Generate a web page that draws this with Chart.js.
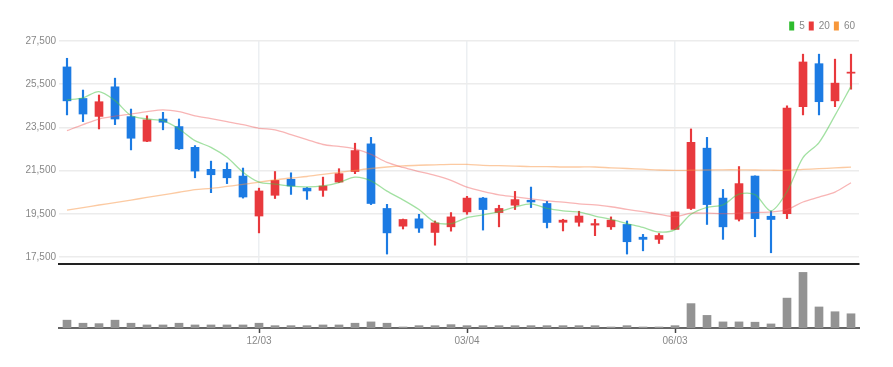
<!DOCTYPE html>
<html>
<head>
<meta charset="utf-8">
<script src="https://cdn.jsdelivr.net/npm/chart.js@4/dist/chart.umd.min.js"></script>
<style>
  body { margin: 0; background: #fff; }
  #wrap { position: relative; width: 893px; height: 367px; }
  #priceChart { position: absolute; left: 0; top: 0; }
  #volumeChart { position: absolute; left: 0; top: 264px; }
</style>
</head>
<body>
<div id="wrap">
  <canvas id="priceChart" width="893" height="273"></canvas>
  <canvas id="volumeChart" width="893" height="103"></canvas>
</div>
<script>
// weekly candles
const weeks = [
  "09/10","09/17","09/24","10/01","10/08","10/15","10/22","10/29","11/05","11/12",
  "11/19","11/26","12/03","12/10","12/17","12/24","12/31","01/07","01/14","01/21",
  "01/28","02/04","02/11","02/18","02/25","03/04","03/11","03/18","03/25","04/01",
  "04/08","04/15","04/22","04/29","05/06","05/13","05/20","05/27","06/03","06/10",
  "06/17","06/24","07/01","07/08","07/15","07/22","07/29","08/05","08/12","08/19"
];
const shownWeeks = ["12/03", "03/04", "06/03"];

const openPrice = [
  26300,24840,24010,25380,24000,22860,23890,23540,22580,21560,
  21560,21250,19400,20360,21100,20690,20590,20970,21460,22740,
  19750,18930,19270,18640,18900,19590,20230,19560,19900,20130,
  19980,19110,19110,18980,18900,19010,18420,18320,18780,19750,
  22540,20230,19250,21250,19390,19510,24460,26450,24730,26010
];
const highPrice = [
  26700,25230,25000,25780,24350,24040,24200,23890,22660,21940,
  21860,21620,20690,21460,21400,20720,21200,21590,22770,23040,
  19940,19260,19480,19170,19560,20310,20260,19900,20540,20740,
  20080,19250,19620,19250,19360,19170,18550,18590,19590,23430,
  23040,20630,21690,21260,19630,24500,26890,26890,26660,26890
];
const lowPrice = [
  24080,23770,23430,23630,22460,22840,23390,22480,21170,20480,
  20900,20230,18620,20210,20400,20170,20310,20950,21360,19930,
  17640,18800,18640,18050,18700,19480,18750,18900,19700,19790,
  18850,18710,18930,18490,18780,17640,17790,18130,18770,19700,
  19010,18320,19170,18440,17700,19280,24080,24080,24460,25270
];
const closePrice = [
  24730,24120,24690,23890,23000,23850,23740,22510,21480,21310,
  21170,20280,20560,21050,20790,20560,20790,21360,22430,19980,
  18620,19240,18840,19080,19360,20230,19700,19750,20160,20050,
  19100,19210,19400,19050,19210,18210,18320,18500,19590,22810,
  19930,18900,20900,19280,19240,24400,26530,24690,25550,26060
];
const volume = [
  77000,47000,43000,77000,47000,30000,30000,47000,30000,30000,
  30000,30000,47000,23000,23000,23000,30000,30000,47000,60000,
  47000,10000,23000,23000,33000,23000,23000,23000,23000,23000,
  23000,23000,23000,23000,10000,23000,10000,10000,23000,240000,
  124000,60000,60000,57000,40000,294000,547000,207000,160000,140000
];

// moving averages
const ma5 = [
  24770,24870,25160,24740,24050,23890,23810,23430,22890,22580,
  22120,21430,20970,20880,20780,20750,20800,20950,21200,21030,
  20550,20150,19700,19120,19050,19330,19450,19600,19810,19960,
  19750,19640,19585,19400,19240,19050,18870,18660,18770,19480,
  19800,19920,20410,20390,19640,20530,22100,22800,24060,25400
];
const ma20 = [
  23350,23630,23890,24020,24120,24230,24310,24230,24040,23910,
  23770,23630,23460,23390,23170,22940,22710,22620,22510,22250,
  21880,21650,21460,21280,21050,20740,20540,20380,20290,20190,
  20100,20040,19960,19920,19830,19710,19600,19480,19370,19530,
  19530,19510,19530,19560,19590,19700,20050,20280,20510,20940
];
const ma60 = [
  19670,19790,19910,20020,20140,20260,20380,20500,20620,20680,
  20770,20860,20970,21070,21160,21230,21330,21420,21510,21600,
  21670,21720,21750,21770,21790,21790,21740,21730,21710,21690,
  21690,21670,21670,21670,21630,21600,21570,21530,21510,21520,
  21530,21540,21540,21530,21520,21520,21560,21590,21630,21660
];
const priceTicks = [17500, 19500, 21500, 23500, 25500, 27500];

const maNames = ["5", "20", "60"];
const maLineColors = ["rgba(70,195,70,0.5)", "rgba(240,90,90,0.45)", "rgba(250,150,70,0.5)"];
const maKeyColors = ["#2dbb2d", "#ea3a3a", "#f7973a"];

const UP = "#e8393d";
const DOWN = "#1c7be3";
const candleColor = (i) => closePrice[i] >= openPrice[i] ? UP : DOWN;
const isShown = (i) => shownWeeks.includes(weeks[i]);

const fixWidth = (scale) => { scale.width = 59; };
const labelFont = { family: "'Liberation Sans Narrow', 'Liberation Sans', Arial", size: 10 };

const priceChart = new Chart(document.getElementById("priceChart"), {
  data: {
    labels: weeks,
    datasets: [
      ...[ma5, ma20, ma60].map((d, k) => ({
        type: "line",
        label: maNames[k],
        data: d,
        borderColor: maLineColors[k],
        backgroundColor: maKeyColors[k],
        borderWidth: 1.3,
        pointRadius: 0,
        tension: 0.3,
        order: 0
      })),
      {
        type: "bar",
        label: "body",
        data: weeks.map((_, i) => [openPrice[i], closePrice[i]]),
        backgroundColor: weeks.map((_, i) => candleColor(i)),
        barThickness: 8,
        minBarLength: 1,
        grouped: false,
        order: 1
      },
      {
        type: "bar",
        label: "wick",
        data: weeks.map((_, i) => [lowPrice[i], highPrice[i]]),
        backgroundColor: weeks.map((_, i) => candleColor(i)),
        barThickness: 1.5,
        grouped: false,
        order: 2
      }
    ]
  },
  options: {
    responsive: false,
    animation: false,
    layout: { padding: { left: 0, right: 34, top: 17, bottom: 0 } },
    plugins: {
      tooltip: { enabled: false },
      legend: {
        position: "top",
        align: "end",
        labels: {
          boxWidth: 5,
          boxHeight: 9,
          padding: 4,
          color: "#888",
          font: labelFont,
          generateLabels: () => maNames.map((n, k) => ({
            text: n,
            fillStyle: maKeyColors[k],
            strokeStyle: maKeyColors[k],
            lineWidth: 0,
            fontColor: "#888",
            datasetIndex: k,
            hidden: false
          }))
        }
      }
    },
    scales: {
      x: {
        type: "category",
        ticks: { display: false, autoSkip: false },
        grid: {
          offset: false,
          drawTicks: false,
          color: (c) => isShown(c.index) ? "#eceff2" : "transparent",
          lineWidth: 1.5
        },
        border: { display: true, color: "#222", width: 2 }
      },
      y: {
        min: 17180,
        max: 27500,
        afterFit: fixWidth,
        afterBuildTicks: (scale) => { scale.ticks = priceTicks.map(v => ({ value: v })); },
        ticks: {
          color: "#888",
          font: labelFont,
          padding: 3,
          callback: (v) => v.toLocaleString("en-US")
        },
        grid: { drawTicks: false, color: "#ececec", lineWidth: 1.5 },
        border: { display: false }
      }
    }
  }
});

const volumeChart = new Chart(document.getElementById("volumeChart"), {
  type: "bar",
  data: {
    labels: weeks,
    datasets: [{
      label: "volume",
      data: volume,
      backgroundColor: "#939393",
      barThickness: 8
    }]
  },
  options: {
    responsive: false,
    animation: false,
    layout: { padding: { left: 0, right: 34, top: 2, bottom: 18 } },
    plugins: { legend: { display: false }, tooltip: { enabled: false } },
    scales: {
      x: {
        ticks: {
          autoSkip: false,
          maxRotation: 0,
          color: "#888",
          font: labelFont,
          padding: 2,
          callback: (v, i) => isShown(i) ? weeks[i] : ""
        },
        grid: {
          offset: false,
          drawOnChartArea: false,
          tickLength: 5,
          tickColor: (c) => isShown(c.index) ? "#444" : "transparent",
          tickWidth: 1.5
        },
        border: { display: true, color: "#666", width: 2 }
      },
      y: {
        min: 0,
        max: 610000,
        afterFit: fixWidth,
        ticks: { display: false },
        grid: { display: false },
        border: { display: false }
      }
    }
  }
});
</script>
</body>
</html>
